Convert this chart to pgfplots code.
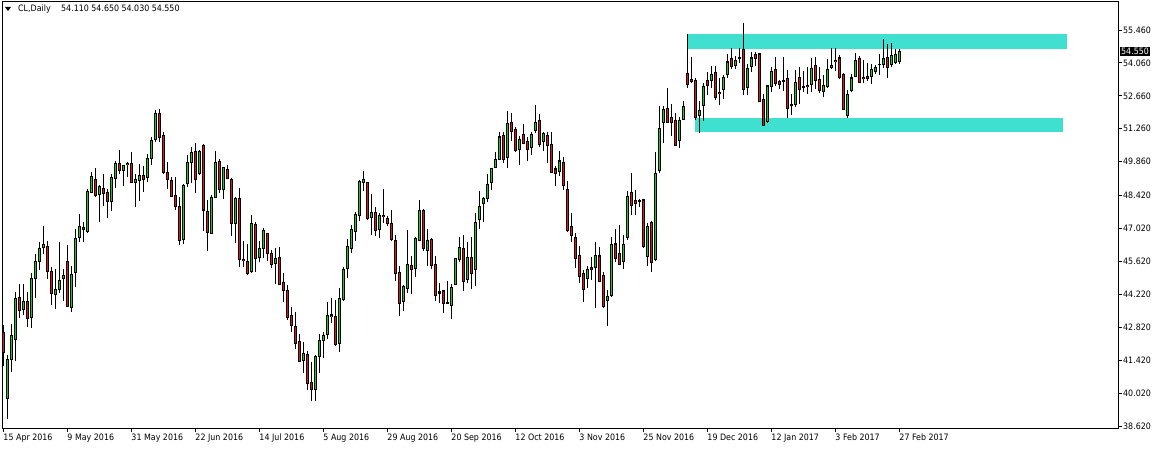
\documentclass[border=0pt]{standalone}
\usepackage{pgfplots}
\pgfplotsset{compat=1.18}
\usepackage{pgfplotstable}
\usepackage{fontspec}
\setmainfont{DejaVu Sans}[FakeStretch=0.9]
\definecolor{bull}{RGB}{20,205,20}
\definecolor{bear}{RGB}{225,20,20}
\definecolor{zone}{RGB}{64,224,208}

\pgfplotstableread{
i o h l c
0 42.60 42.91 41.18 41.75
1 39.79 41.63 38.91 41.45
2 41.45 42.95 40.93 42.47
3 42.30 44.33 41.39 44.04
4 44.09 44.65 43.22 43.52
5 43.55 44.65 43.34 43.92
6 43.92 44.30 42.84 43.19
7 43.22 45.11 42.80 44.90
8 44.90 45.92 44.07 45.62
9 45.60 46.45 45.25 46.17
10 46.20 47.12 45.92 46.34
11 46.27 46.48 44.87 45.18
12 45.19 45.39 43.78 44.26
13 44.21 45.29 43.61 44.43
14 44.41 46.43 44.29 44.81
15 44.90 45.31 43.95 45.00
16 45.62 46.31 43.66 43.69
17 43.66 45.42 43.48 45.08
18 45.14 47.01 44.54 46.60
19 46.64 47.63 46.45 47.12
20 47.08 47.29 46.45 46.97
21 46.88 48.68 46.81 48.61
22 48.55 49.43 48.51 49.23
23 49.11 49.57 48.34 48.41
24 48.47 48.87 47.31 48.81
25 48.72 49.32 47.97 48.50
26 48.54 48.68 47.48 48.16
27 48.16 49.33 47.77 49.19
28 49.13 49.89 48.75 49.80
29 49.80 50.35 49.33 49.47
30 49.47 49.73 48.84 49.70
31 49.74 49.86 49.22 49.80
32 49.79 50.25 48.94 48.98
33 48.96 49.33 47.94 49.12
34 49.06 49.74 48.20 49.28
35 49.28 49.69 48.58 49.08
36 49.18 50.18 48.98 50.00
37 49.99 50.92 49.73 50.76
38 50.81 52.06 50.71 51.91
39 51.91 52.08 50.71 50.89
40 50.99 51.13 49.35 49.39
41 49.40 49.84 48.68 49.08
42 49.08 49.21 48.37 48.38
43 48.42 49.21 47.80 47.94
44 47.97 48.34 46.31 46.50
45 46.55 48.92 46.36 48.85
46 48.94 50.14 48.80 49.83
47 49.83 50.50 48.94 50.26
48 50.30 50.64 48.51 49.11
49 49.36 50.36 49.29 50.31
50 50.53 50.60 46.92 47.80
51 47.76 48.23 46.07 46.85
52 46.81 48.44 46.78 48.34
53 48.33 50.31 48.30 49.83
54 49.86 49.96 48.51 48.68
55 48.68 49.62 48.26 49.62
56 49.53 49.72 49.11 49.15
57 49.11 49.15 46.70 47.24
58 47.24 48.34 46.39 48.30
59 48.30 48.73 45.37 45.68
60 45.72 46.49 45.39 45.65
61 45.63 46.34 45.04 45.11
62 45.18 47.59 45.14 47.24
63 47.19 47.29 45.18 45.75
64 45.79 46.49 45.61 46.17
65 46.17 47.05 45.75 46.94
66 46.81 46.84 45.65 45.96
67 45.96 46.10 45.35 45.49
68 45.54 46.20 44.64 45.75
69 45.79 46.22 44.61 44.64
70 44.71 45.11 43.89 44.39
71 44.39 44.61 43.13 43.21
72 43.31 43.66 42.63 42.88
73 42.86 43.45 41.89 42.13
74 42.23 42.52 41.32 41.35
75 41.41 42.19 40.86 41.71
76 41.66 41.82 40.15 40.43
77 40.47 41.34 39.69 40.15
78 40.18 41.64 39.69 41.57
79 41.57 42.53 40.88 42.25
80 42.25 42.63 41.52 42.47
81 42.49 43.90 42.33 43.31
82 43.28 44.05 43.01 43.34
83 43.28 43.98 42.03 42.09
84 42.13 44.47 41.75 44.05
85 44.00 45.36 43.95 45.28
86 45.32 46.57 44.93 46.26
87 46.17 47.17 45.99 46.98
88 46.88 47.73 46.49 47.62
89 47.56 49.08 47.34 49.01
90 48.98 49.46 48.63 49.11
91 48.98 49.01 47.38 47.45
92 47.48 48.48 46.74 47.68
93 47.70 47.92 46.70 46.92
94 46.98 47.66 46.63 47.59
95 47.58 48.70 47.24 47.52
96 47.45 47.55 47.11 47.22
97 47.24 47.79 46.50 46.54
98 46.51 46.74 44.80 45.11
99 45.15 45.42 43.31 43.82
100 43.91 44.61 43.52 44.56
101 44.47 46.95 44.26 45.49
102 45.45 45.85 44.23 45.27
103 45.32 46.67 44.97 46.60
104 46.51 48.23 46.48 47.79
105 47.80 47.83 46.05 46.17
106 46.07 46.98 45.44 46.51
107 46.56 46.60 45.28 45.44
108 45.49 45.85 43.95 44.16
109 44.32 44.71 43.83 44.27
110 44.36 44.40 43.41 43.83
111 43.85 44.78 43.79 43.82
112 43.73 44.64 43.15 44.51
113 44.64 45.78 44.61 45.75
114 45.71 46.67 45.61 46.22
115 46.17 46.74 44.37 44.76
116 44.83 46.46 44.71 45.79
117 45.79 46.67 44.43 45.11
118 45.28 47.69 44.59 47.28
119 47.39 48.63 47.00 47.96
120 48.09 48.34 47.31 48.30
121 48.30 49.32 48.16 48.90
122 48.98 49.60 48.65 49.58
123 49.62 50.28 49.58 49.96
124 49.96 51.11 49.96 50.91
125 50.98 51.11 49.79 49.93
126 50.03 52.03 49.58 51.49
127 51.53 51.92 50.74 51.14
128 51.24 51.32 50.26 50.33
129 50.38 50.97 49.72 50.81
130 51.02 51.45 50.61 50.64
131 50.71 50.90 49.90 50.36
132 50.47 51.11 50.14 51.02
133 51.18 52.27 51.06 51.53
134 51.63 51.87 50.47 50.57
135 50.71 51.11 50.33 51.04
136 50.98 51.14 49.79 50.54
137 50.60 51.14 49.39 49.41
138 49.55 49.68 48.84 49.36
139 49.43 50.31 49.26 49.89
140 49.83 50.07 48.66 48.84
141 48.66 49.04 46.88 46.93
142 47.12 47.66 46.46 46.71
143 46.64 46.81 45.32 45.75
144 45.89 46.27 44.71 44.97
145 45.11 45.25 43.91 44.43
146 44.88 45.42 44.50 45.28
147 45.37 45.82 44.83 45.28
148 45.37 46.43 43.62 45.89
149 45.85 46.25 44.76 44.76
150 45.00 45.18 43.65 43.69
151 43.95 44.40 42.88 44.12
152 44.16 46.67 44.12 46.32
153 46.36 47.00 45.61 45.75
154 45.96 47.17 45.46 45.49
155 45.61 46.74 45.28 46.32
156 46.63 48.61 46.53 48.36
157 48.57 49.39 47.59 47.99
158 48.20 48.66 47.59 48.07
159 48.21 48.26 47.95 48.16
160 48.23 48.27 46.20 46.25
161 45.82 47.24 45.42 47.12
162 47.28 47.33 45.18 45.58
163 45.68 50.29 45.63 49.34
164 49.48 52.23 49.36 51.28
165 51.53 52.23 50.67 52.09
166 52.13 52.98 51.49 51.53
167 51.75 52.31 50.97 51.52
168 51.63 51.94 50.53 50.54
169 50.75 51.75 50.46 51.63
170 51.67 52.45 51.63 52.20
171 53.62 55.29 53.01 53.15
172 53.36 54.33 53.19 53.26
173 53.32 53.43 51.63 51.73
174 51.82 52.44 51.09 52.04
175 52.24 53.19 51.59 53.04
176 53.32 53.66 52.70 53.08
177 53.29 53.93 52.98 53.57
178 53.66 53.93 52.48 52.58
179 52.82 53.40 52.27 52.75
180 52.94 53.55 52.51 53.46
181 53.57 54.43 53.40 54.10
182 54.23 54.71 53.80 53.90
183 53.94 54.35 53.80 54.17
184 54.27 54.71 54.07 54.25
185 54.65 55.74 52.68 52.94
186 53.02 54.00 52.70 53.84
187 53.90 54.54 53.69 54.27
188 54.40 54.54 53.93 54.25
189 54.44 54.50 52.41 52.43
190 52.51 52.74 51.38 51.41
191 51.56 53.09 51.49 53.08
192 53.04 53.90 52.82 53.70
193 53.79 54.30 53.08 53.18
194 53.29 53.33 52.94 53.15
195 53.32 54.30 52.87 53.28
196 53.40 53.76 51.73 52.13
197 52.28 52.74 51.84 52.24
198 52.27 53.76 52.20 53.23
199 53.46 53.90 52.30 52.91
200 53.05 53.73 52.84 53.01
201 53.12 53.90 52.75 53.06
202 53.12 54.28 52.81 53.84
203 53.96 54.30 52.95 53.32
204 53.36 53.90 52.77 52.87
205 52.84 53.55 52.62 53.09
206 53.05 54.21 52.98 53.80
207 53.87 54.68 53.80 53.97
208 54.11 54.68 53.72 54.18
209 54.27 54.40 53.36 53.43
210 53.57 53.64 52.04 52.09
211 51.82 52.91 51.70 52.72
212 52.88 53.57 52.81 53.42
213 53.48 54.47 53.45 54.17
214 54.23 54.35 53.19 53.23
215 53.46 54.18 53.22 53.39
216 53.50 54.07 53.29 53.39
217 53.48 54.00 53.15 53.79
218 53.69 53.97 53.57 53.87
219 54.00 54.43 53.53 53.97
220 54.00 55.06 53.83 54.23
221 54.30 54.85 53.43 53.87
222 54.00 54.92 53.87 54.37
223 54.08 54.65 54.00 54.42
224 54.11 54.65 54.03 54.55
}\ohlc

\newcommand{\lblfont}{\fontsize{8.8}{10}\selectfont}

\begin{document}
\begin{tikzpicture}[x=1pt,y=1pt]
\path[use as bounding box, fill=white] (-2,-21) rectangle (1157,428);
\begin{axis}[
  at={(0,0)}, anchor=south west,
  scale only axis, width=1116pt, height=427pt,
  xmin=-0.325, xmax=278.675, ymin=38.531, ymax=56.693,
  axis line style={black, line width=0.8pt},
  tick align=outside, major tick length=4pt,
  tick style={black, line width=0.8pt},
  xtick pos=left, ytick pos=right, yticklabel pos=right,
  xtick={0,16,...,224},
  xticklabels={15 Apr 2016, 9 May 2016, 31 May 2016, 22 Jun 2016, 14 Jul 2016, 5 Aug 2016, 29 Aug 2016, 20 Sep 2016, 12 Oct 2016, 3 Nov 2016, 25 Nov 2016, 19 Dec 2016, 12 Jan 2017, 3 Feb 2017, 27 Feb 2017},
  ytick={38.62,40.02,41.42,42.82,44.22,45.62,47.02,48.42,49.86,51.26,52.66,54.06,55.46},
  yticklabels={38.620,40.020,41.420,42.820,44.220,45.620,47.020,48.420,49.860,51.260,52.660,54.060,55.460},
  xticklabel style={anchor=north west, inner sep=0pt, font=\lblfont, xshift=0pt, yshift=-2pt},
  yticklabel style={anchor=west, inner sep=0pt, font=\lblfont, xshift=1pt},
  clip mode=individual,
  error bars/error mark=none,
]
\addplot[draw=none, fill=zone] coordinates {(171,54.67) (265.9,54.67) (265.9,55.29) (171,55.29)} -- cycle;
\addplot[draw=none, fill=zone] coordinates {(172.9,51.14) (264.9,51.14) (264.9,51.73) (172.9,51.73)} -- cycle;
% wicks
\addplot[draw=none, mark=none, error bars/.cd, y dir=minus, y explicit, error bar style={draw=black, solid, line width=1pt}]
  table[x=i, y=h, y error minus expr={\thisrow{h}-\thisrow{l}}] {\ohlc};
% body outlines
\addplot[draw=none, mark=none, error bars/.cd, y dir=minus, y explicit, error bar style={draw=black, solid, line width=3pt}]
  table[x=i, y expr={max(\thisrow{o},\thisrow{c})+0.02}, y error minus expr={abs(\thisrow{o}-\thisrow{c})+0.04}] {\ohlc};
% bull fills (zero length on bear candles)
\addplot[draw=none, mark=none, error bars/.cd, y dir=minus, y explicit, error bar style={draw=bull, solid, line width=1.2pt}]
  table[x=i, y expr={\thisrow{c}-0.025}, y error minus expr={max(\thisrow{c}-\thisrow{o}-0.05,0)}] {\ohlc};
% bear fills (zero length on bull candles)
\addplot[draw=none, mark=none, error bars/.cd, y dir=minus, y explicit, error bar style={draw=bear, solid, line width=1.2pt}]
  table[x=i, y expr={\thisrow{o}-0.025}, y error minus expr={max(\thisrow{o}-\thisrow{c}-0.05,0)}] {\ohlc};
\coordinate (pl) at (axis cs:278.675,54.55);
\end{axis}
\node[fill=black, text=white, anchor=west, inner xsep=1.5pt, inner ysep=1.5pt, font=\lblfont] at ([xshift=1.5pt]pl) {54.550};
\fill[black] (3,421) -- (9,421) -- (6,417) -- cycle;
\node[anchor=base west, inner sep=0pt, font=\lblfont] at (16,416) {CL,Daily};
\node[anchor=base west, inner sep=0pt, font=\lblfont] at (59,416) {54.110 54.650 54.030 54.550};
\end{tikzpicture}
\end{document}
